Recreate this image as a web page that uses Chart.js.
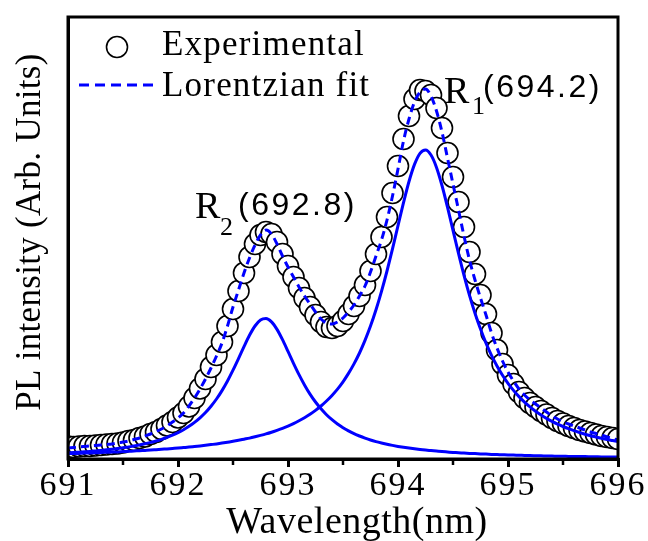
<!DOCTYPE html>
<html>
<head>
<meta charset="utf-8">
<script src="https://cdn.jsdelivr.net/npm/chart.js@4.4.1/dist/chart.umd.min.js"></script>
<style>
  html, body { margin: 0; padding: 0; background: #fff; }
  #wrap { width: 648px; height: 541px; position: relative; }
</style>
</head>
<body>
<div id="wrap"><canvas id="c"></canvas></div>
<script>
// Ruby R-line photoluminescence: measured points, total Lorentzian fit and the two components.
const wavelength = [
  691.00, 691.05, 691.10, 691.15, 691.20, 691.25, 691.30, 691.35, 691.40, 691.45,
  691.50, 691.55, 691.60, 691.65, 691.70, 691.75, 691.80, 691.85, 691.90, 691.95,
  692.00, 692.05, 692.10, 692.15, 692.20, 692.25, 692.30, 692.35, 692.40, 692.45,
  692.50, 692.55, 692.60, 692.65, 692.70, 692.75, 692.80, 692.85, 692.90, 692.95,
  693.00, 693.05, 693.10, 693.15, 693.20, 693.25, 693.30, 693.35, 693.40, 693.45,
  693.50, 693.55, 693.60, 693.65, 693.70, 693.75, 693.80, 693.85, 693.90, 693.95,
  694.00, 694.05, 694.10, 694.15, 694.20, 694.25, 694.30, 694.35, 694.40, 694.45,
  694.50, 694.55, 694.60, 694.65, 694.70, 694.75, 694.80, 694.85, 694.90, 694.95,
  695.00, 695.05, 695.10, 695.15, 695.20, 695.25, 695.30, 695.35, 695.40, 695.45,
  695.50, 695.55, 695.60, 695.65, 695.70, 695.75, 695.80, 695.85, 695.90, 695.95,
  696.00
];

const experimental = [
  12.5, 12, 12.5, 13, 13, 13.5, 14, 14.5, 15, 15.5,
  16.5, 18, 19, 21, 22.5, 25, 27, 30, 33.5, 37,
  41.5, 46, 52.5, 61, 70.5, 80, 92, 104, 117, 133,
  150, 168, 186, 202, 215, 224, 227, 225, 217, 205,
  193, 182, 171, 161, 152, 144, 137, 132, 131, 133,
  138, 145, 153, 163, 174, 188, 205, 222, 242, 266,
  293, 320, 343, 360, 369, 368, 364, 351, 331, 306,
  282, 257, 232, 207, 185, 164, 145, 126, 109, 95,
  84, 75, 67, 61, 56, 52, 48, 44.5, 41, 38,
  35.5, 33, 31, 29, 27.5, 26, 24.5, 23, 22, 21,
  20
];

const lorentzianFit = [
  11, 11.5, 12, 12.5, 13, 13.5, 14, 14.5, 15, 16,
  17, 18, 19.5, 21, 23, 25, 27.5, 30, 33, 37,
  41, 46, 53, 61, 70, 80, 91, 103, 116, 133,
  152, 169, 186, 201, 214, 224, 229, 225, 215, 203,
  192, 182, 172, 163, 155, 147, 140, 136, 135, 137,
  141, 147, 154, 163, 173, 187, 203, 219, 239, 263,
  290, 318, 340, 357, 367, 370, 363, 348, 327, 301,
  275, 249, 223, 199, 179, 161, 144, 126, 111, 98,
  87, 78, 70, 64, 59, 55, 51, 47, 43, 40,
  37, 35, 33, 31, 29, 27, 25.5, 24, 22, 20.5,
  19
];

const componentR1 = [
  5.3, 5.5, 5.7, 5.9, 6.0, 6.2, 6.5, 6.7, 6.9, 7.1,
  7.4, 7.7, 8.0, 8.3, 8.6, 8.9, 9.3, 9.7, 10.1, 10.5,
  10.9, 11.4, 11.9, 12.5, 13.1, 13.7, 14.4, 15.1, 15.9, 16.8,
  17.7, 18.7, 19.8, 20.9, 22.2, 23.6, 25.1, 26.8, 28.7, 30.7,
  32.9, 35.4, 38.2, 41.3, 44.7, 48.6, 53.0, 58.0, 63.6, 69.9,
  77.2, 85.6, 95.1, 106.0, 118.6, 132.9, 149.2, 167.6, 188.0, 210.1,
  233.3, 256.3, 277.5, 294.6, 305.7, 309.0, 304.0, 291.6, 273.5, 251.8,
  228.6, 205.6, 183.7, 163.7, 145.8, 129.9, 115.9, 103.7, 93.1, 83.8,
  75.7, 68.6, 62.4, 56.9, 52.1, 47.8, 44.0, 40.6, 37.6, 34.9,
  32.5, 30.3, 28.3, 26.5, 24.8, 23.3, 22.0, 20.7, 19.5, 18.5,
  17.5
];

const componentR2 = [
  6.1, 6.4, 6.8, 7.2, 7.6, 8.1, 8.6, 9.2, 9.8, 10.5,
  11.2, 12.1, 13.0, 14.1, 15.2, 16.6, 18.0, 19.7, 21.7, 23.9,
  26.4, 29.3, 32.7, 36.6, 41.2, 46.5, 52.8, 60.0, 68.4, 78.0,
  88.8, 100.4, 112.4, 123.7, 133.0, 139.0, 140.4, 137.1, 129.6, 119.3,
  107.6, 95.7, 84.4, 74.1, 64.9, 57.0, 50.2, 44.3, 39.3, 35.0,
  31.3, 28.1, 25.3, 23.0, 20.9, 19.0, 17.4, 16.0, 14.7, 13.6,
  12.6, 11.7, 10.9, 10.2, 9.5, 8.9, 8.4, 7.9, 7.4, 7.0,
  6.6, 6.3, 5.9, 5.6, 5.4, 5.1, 4.9, 4.6, 4.4, 4.2,
  4.0, 3.9, 3.7, 3.6, 3.4, 3.3, 3.2, 3.0, 2.9, 2.8,
  2.7, 2.6, 2.5, 2.4, 2.4, 2.3, 2.2, 2.1, 2.1, 2.0,
  1.9
];

const xTicks = [691, 692, 693, 694, 695, 696];
const peakNames = ['R', 'R'];
const peakIndices = ['1', '2'];
const peakPositions = [694.2, 692.8];

const BLUE = '#0000ff';
const SERIF = '"Liberation Serif", "Times New Roman", serif';
const SANS = '"Liberation Sans", Arial, sans-serif';

const toPoints = (ys) => wavelength.map((x, i) => ({ x, y: ys[i] }));

function drawText(ctx, s, x, y, font, spacing, align) {
  ctx.font = font;
  ctx.letterSpacing = spacing + 'px';
  ctx.textAlign = align || 'left';
  ctx.textBaseline = 'alphabetic';
  ctx.fillStyle = '#000';
  ctx.fillText(s, x, y);
}

const decor = {
  id: 'decor',
  beforeDraw(chart) { chart.ctx.letterSpacing = '2px'; },
  beforeDatasetsDraw(chart) { chart.ctx.letterSpacing = '0px'; },
  afterDatasetsDraw(chart) {
    const { ctx, chartArea: a, scales: { x } } = chart;
    ctx.save();
    ctx.strokeStyle = '#000';
    ctx.lineWidth = 3;
    ctx.strokeRect(a.left, a.top, a.right - a.left, a.bottom - a.top);
    // half-unit minor ticks below the wavelength axis
    ctx.lineWidth = 2.5;
    for (let i = 0; i < xTicks.length - 1; i++) {
      const px = x.getPixelForValue((xTicks[i] + xTicks[i + 1]) / 2);
      ctx.beginPath();
      ctx.moveTo(px, a.bottom);
      ctx.lineTo(px, a.bottom + 6);
      ctx.stroke();
    }
    ctx.restore();
  },
  afterDraw(chart) {
    const { ctx, chartArea: a, scales: { x } } = chart;
    const ds = chart.data.datasets;
    const expDs = ds.find(d => d.label === 'Experimental');
    const fitDs = ds.find(d => d.label === 'Lorentzian fit');
    ctx.save();

    // legend
    const lx = a.left + 49, ly = a.top + 30;
    ctx.beginPath();
    ctx.arc(lx, ly, expDs.pointRadius, 0, Math.PI * 2);
    ctx.fillStyle = expDs.pointBackgroundColor;
    ctx.fill();
    ctx.lineWidth = expDs.pointBorderWidth;
    ctx.strokeStyle = expDs.pointBorderColor;
    ctx.stroke();
    drawText(ctx, expDs.label, a.left + 94, a.top + 38, '35px ' + SERIF, 1.2);

    ctx.save();
    ctx.setLineDash([10, 6]);
    ctx.strokeStyle = fitDs.borderColor;
    ctx.lineWidth = fitDs.borderWidth;
    ctx.beginPath();
    ctx.moveTo(a.left + 11, a.top + 68);
    ctx.lineTo(a.left + 87, a.top + 68);
    ctx.stroke();
    ctx.restore();
    drawText(ctx, fitDs.label, a.left + 94, a.top + 79, '35px ' + SERIF, 1.2);

    // peak labels
    const layout = [
      { r: 24, rb: 103, s: 52, sb: 114, n: 63, nb: 97 },
      { r: -71, rb: 218, s: -46, sb: 235, n: -28, nb: 215 }
    ];
    peakPositions.forEach((wl, i) => {
      const px = x.getPixelForValue(wl);
      const L = layout[i];
      drawText(ctx, peakNames[i], px + L.r, L.rb, '38px ' + SERIF, 0);
      drawText(ctx, peakIndices[i], px + L.s, L.sb, '26px ' + SERIF, 0);
      drawText(ctx, '(' + wl.toFixed(1) + ')', px + L.n, L.nb, '32px ' + SANS, 2.5);
    });

    // axis titles
    drawText(ctx, 'Wavelength(nm)', (a.left + a.right) / 2 + 14, 533, '38px ' + SERIF, 0.5, 'center');
    ctx.save();
    ctx.translate(31, (a.top + a.bottom) / 2 - 6);
    ctx.rotate(-Math.PI / 2);
    ctx.font = '35px ' + SERIF;
    ctx.letterSpacing = '0.3px';
    ctx.textAlign = 'center';
    ctx.textBaseline = 'middle';
    ctx.fillStyle = '#000';
    ctx.fillText('PL intensity (Arb. Units)', 0, 0);
    ctx.restore();

    ctx.restore();
  }
};

new Chart(document.getElementById('c'), {
  type: 'line',
  data: {
    datasets: [
      {
        label: 'Lorentzian fit', data: toPoints(lorentzianFit), order: 0,
        borderColor: BLUE, borderWidth: 3, borderDash: [8, 5], pointRadius: 0,
        cubicInterpolationMode: 'monotone', fill: false, clip: 0
      },
      {
        label: 'R1 component', data: toPoints(componentR1), order: 1,
        borderColor: BLUE, borderWidth: 3, pointRadius: 0,
        cubicInterpolationMode: 'monotone', fill: false, clip: 0
      },
      {
        label: 'R2 component', data: toPoints(componentR2), order: 2,
        borderColor: BLUE, borderWidth: 3, pointRadius: 0,
        cubicInterpolationMode: 'monotone', fill: false, clip: 0
      },
      {
        label: 'Experimental', data: toPoints(experimental), order: 3,
        showLine: false, pointStyle: 'circle', pointRadius: 10.5,
        pointBorderWidth: 1.6, pointBorderColor: '#000', pointBackgroundColor: '#fff',
        clip: 0
      }
    ]
  },
  options: {
    responsive: true,
    maintainAspectRatio: false,
    animation: false,
    devicePixelRatio: 1,
    events: [],
    layout: { padding: { top: 17, right: 30, left: 0, bottom: 0 } },
    plugins: { legend: { display: false }, tooltip: { enabled: false } },
    scales: {
      x: {
        type: 'linear',
        min: xTicks[0],
        max: xTicks[xTicks.length - 1],
        ticks: {
          stepSize: 1, autoSkip: false, maxRotation: 0, padding: 2, color: '#000',
          font: { family: SERIF, size: 34, lineHeight: 1 },
          callback: (v) => String(v)
        },
        grid: { display: true, drawOnChartArea: false, drawTicks: true, tickLength: 8, color: '#000', lineWidth: 3 },
        border: { display: true, color: '#000', width: 3 },
        afterFit: (s) => { s.height = 82; }
      },
      y: {
        min: 0,
        max: 442,
        ticks: { display: false },
        grid: { display: false },
        border: { display: true, color: '#000', width: 3 },
        afterFit: (s) => { s.width = 68; }
      }
    }
  },
  plugins: [decor]
});
</script>
</body>
</html>
